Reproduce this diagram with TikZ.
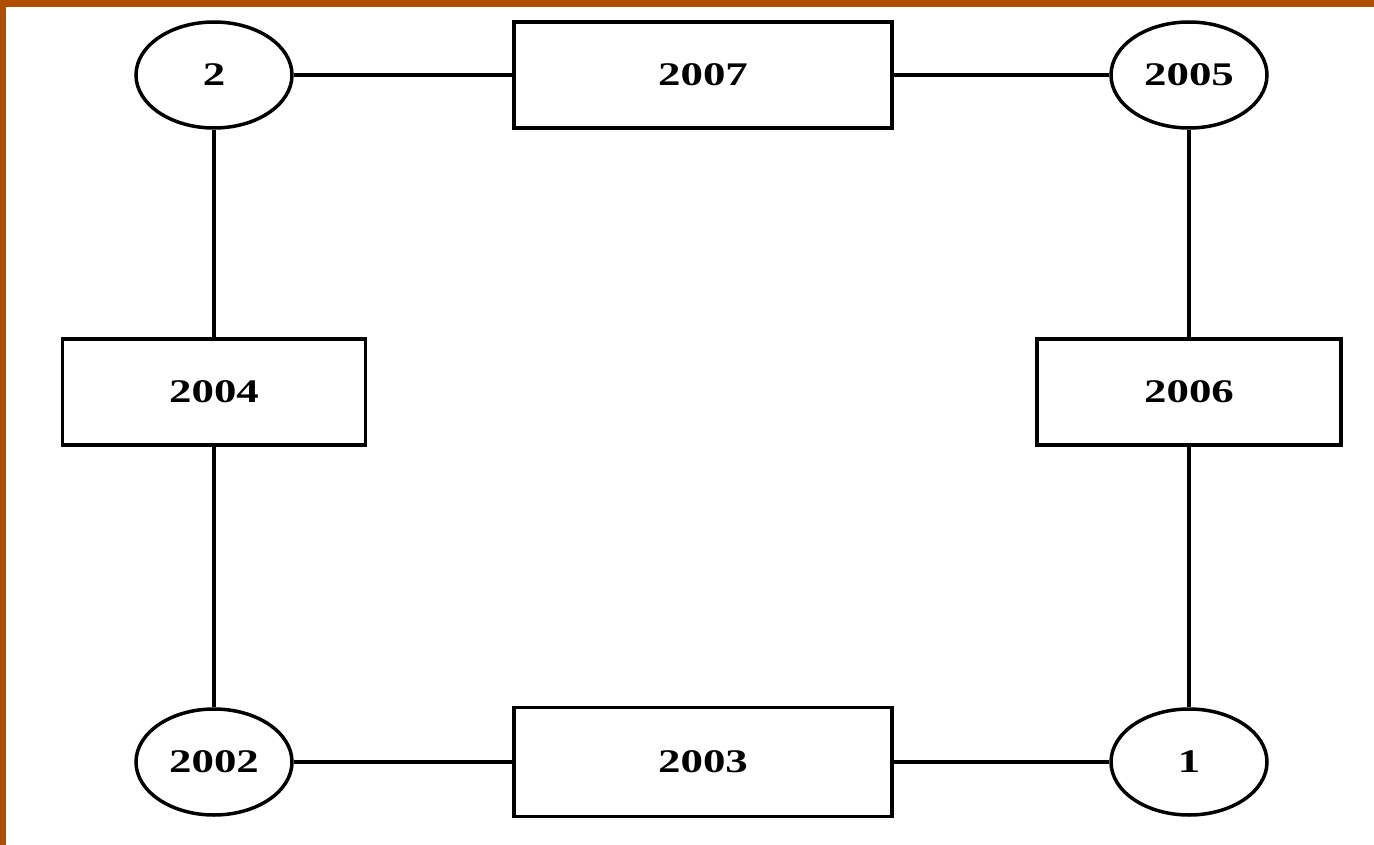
\documentclass[tikz,border=0pt]{standalone}
\usepackage{fontspec}
\usepackage{graphicx}
\setmainfont{Liberation Serif}
\usetikzlibrary{shapes.geometric}
\definecolor{frameorange}{HTML}{B04E00}
\newcommand\lbl[1]{\scalebox{1.36}[1]{\fontsize{33}{33}\selectfont\bfseries #1}}
\tikzset{
  oval/.style={ellipse, draw=black, line width=3.5pt, fill=white, minimum width=156pt, minimum height=106pt, inner sep=0pt},
  yearbox/.style={rectangle, draw=black, line width=3.5pt, fill=white, minimum height=106pt, inner sep=0pt},
  link/.style={draw=black, line width=3.5pt}
}
\begin{document}
\begin{tikzpicture}[x=1pt,y=-1pt]
\useasboundingbox (0,0) rectangle (1374,845);
\fill[frameorange] (0,0) rectangle (1374,845);
\fill[white] (6,7) rectangle (1374,845);
\node[oval] (n2) at (214,75) {\lbl{2}};
\node[oval] (n2005) at (1189,75) {\lbl{2005}};
\node[oval] (n2002) at (214,762) {\lbl{2002}};
\node[oval] (n1) at (1189,762) {\lbl{1}};
\node[yearbox, minimum width=378pt] (r2007) at (703,75) {\lbl{2007}};
\node[yearbox, minimum width=303pt] (r2004) at (214,392) {\lbl{2004}};
\node[yearbox, minimum width=304pt] (r2006) at (1189,392) {\lbl{2006}};
\node[yearbox, minimum width=378pt, minimum height=109pt] (r2003) at (703,762) {\lbl{2003}};
\draw[link] (n2) -- (r2007);
\draw[link] (r2007) -- (n2005);
\draw[link] (n2) -- (r2004);
\draw[link] (r2004) -- (n2002);
\draw[link] (n2002) -- (r2003);
\draw[link] (r2003) -- (n1);
\draw[link] (n2005) -- (r2006);
\draw[link] (r2006) -- (n1);
\end{tikzpicture}
\end{document}
